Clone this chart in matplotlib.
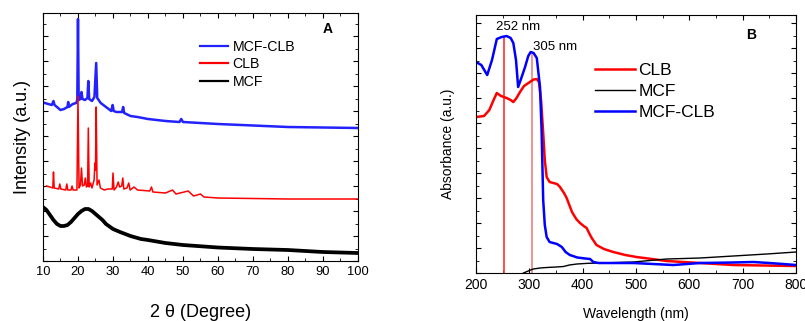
import matplotlib
matplotlib.use("Agg")
import matplotlib.pyplot as plt
from matplotlib.ticker import MultipleLocator

plt.rcParams["font.family"] = ["Liberation Sans", "DejaVu Sans"]

# ---- panel A: XRD ----
xrd_blue_x = [10.5, 11.5, 12.5, 13.0, 13.3, 14, 15, 16, 17, 17.2, 17.4, 18.5, 19.5, 19.8, 20.0, 20.2,
              20.7, 21.0, 21.3, 22, 22.7, 22.95, 23.2, 24, 24.7, 25.2, 25.5, 25.9, 26.5, 28, 29.5, 29.9,
              30.2, 31, 32.6, 32.9, 33.2, 35, 37, 40, 45, 49, 49.5, 50, 55, 60, 70, 80, 90, 100]
xrd_blue_y = [158, 157, 156, 160, 156, 154, 151, 152, 154, 159, 154, 157, 158, 161, 242, 161,
              162, 169, 162, 161, 163, 180, 162, 160, 164, 198, 163, 161, 158, 154, 150, 156,
              150, 149, 149, 154, 148, 145, 144, 142, 140, 139, 142, 139, 138, 137, 135.5, 134, 133.5, 133]

xrd_red_x = [11, 12, 12.8, 13.0, 13.2, 14.5, 14.8, 15.1, 16.5, 16.8, 17.1, 18.0, 18.3, 18.6, 19.7, 20.0,
             20.3, 20.7, 21.0, 21.3, 21.8, 22.1, 22.4, 22.75, 22.95, 23.2, 23.6, 24.0, 24.6, 24.85, 25.0,
             25.2, 25.45, 26.0, 26.4, 27.5, 28.5, 29.8, 30.0, 30.3, 31.0, 31.5, 31.9, 32.5, 32.8, 33.1,
             34.0, 34.5, 34.9, 36, 37, 40.5, 41.0, 41.4, 45, 47, 48, 51.5, 53, 55, 56, 60, 70, 80, 100]
xrd_red_y = [75, 74, 73, 89, 73, 72, 77, 72, 71, 77, 71, 71, 75, 71, 71, 165,
             73, 76, 93, 75, 76, 83, 74, 75, 133, 74, 78, 73, 81, 98, 91,
             154, 76, 81, 73, 71, 72, 72, 88, 71, 74, 79, 74, 75, 83, 72,
             73, 78, 71, 74, 71, 70, 74, 69, 68, 71, 67, 70, 65, 67, 64, 63, 62.5, 62, 62]

xrd_black_x = [10.3, 11, 12, 13, 14, 15, 16, 17, 18, 19, 20, 21, 22, 23, 24, 25, 26, 27, 28, 30,
               32, 35, 38, 40, 45, 50, 60, 70, 80, 90, 100]
xrd_black_y = [53, 51, 46, 41, 37, 35, 35, 36, 39, 43, 47, 50, 52, 52, 50, 47, 44, 41, 37, 32,
               29, 25, 22, 21, 18, 16, 13.5, 12, 11, 9, 8]

# ---- panel B: UV-vis ----
uv_blue_x = [200, 210, 221, 230, 239, 248, 257.5, 265, 270, 275, 279, 285, 292, 298, 302.5, 308, 314,
             320, 323, 326, 329, 332.5, 338, 345, 352, 361, 368, 376, 390, 405, 414, 420, 430, 495,
             570, 620, 680, 720, 750, 776, 800]
uv_blue_y = [211, 208, 198, 213, 234, 236, 237, 235, 230, 213, 186, 195, 206, 217, 221, 220, 215,
             186, 143, 73, 48, 36, 31, 30, 29, 26, 21, 18, 15.5, 14.5, 14, 11, 10, 10,
             8, 10, 10.5, 11, 10, 9, 8]

uv_red_x = [200, 215, 225, 233, 239, 247, 257.5, 265, 270, 276, 282.5, 290, 301, 308, 314, 318, 322,
            326, 329, 332.5, 338, 345, 352, 357.5, 365, 370, 380, 388, 395, 402, 407.5, 412, 417, 426,
            440, 457.5, 480, 501, 530, 557.5, 620, 682.5, 740, 800]
uv_red_y = [156, 157, 163, 173, 180, 177, 175, 173, 171, 175, 181, 187, 191, 193.5, 194, 191, 173,
            140, 113, 96, 91, 90, 89, 86, 80, 75, 61, 54, 50, 47, 45, 40, 35, 28,
            24, 21, 18, 16, 14, 12, 10, 8, 7.5, 7]

uv_black_x = [289, 300, 307.5, 320, 332.5, 350, 364, 375, 389, 410, 432.5, 495, 557.5, 620, 682.5, 745, 800]
uv_black_y = [0, 2.5, 4, 5, 5.5, 6, 6.5, 8, 9, 9.7, 10, 11, 14, 15, 17, 19, 21]

peak_nm = [252, 305]
peak_top = [235, 218]
peak_colors = ["#ff3030", "#f08080"]

fig = plt.figure(figsize=(8.05, 3.21), dpi=100)

# panel A
ax1 = fig.add_axes([0.0534, 0.1869, 0.3913, 0.7726])
l_blue, = ax1.plot(xrd_blue_x, xrd_blue_y, color="#2222ff", lw=1.8, label="MCF-CLB")
l_red, = ax1.plot(xrd_red_x, xrd_red_y, color="#ff0000", lw=1.1, label="CLB")
l_black, = ax1.plot(xrd_black_x, xrd_black_y, color="black", lw=2.7, label="MCF")
ax1.set_xlim(10, 100)
ax1.set_ylim(0, 248)
ax1.xaxis.set_major_locator(MultipleLocator(10))
ax1.xaxis.set_minor_locator(MultipleLocator(5))
ax1.yaxis.set_major_locator(MultipleLocator(25))
ax1.yaxis.set_minor_locator(MultipleLocator(12.5))
ax1.tick_params(which="both", direction="in", top=True, right=True, labelsize=9.3)
ax1.tick_params(axis="y", labelleft=False)
ax1.tick_params(which="major", length=3.5)
ax1.tick_params(which="minor", length=2)
ax1.set_xlabel("2 θ (Degree)", fontsize=13, labelpad=19)
ax1.set_ylabel("Intensity (a.u.)", fontsize=13, labelpad=5)
leg1 = ax1.legend(handles=[l_blue, l_red, l_black], loc="upper left", bbox_to_anchor=(0.48, 0.915),
                  frameon=False, fontsize=10.2, handlelength=2.0, handletextpad=0.3,
                  labelspacing=0.25, borderaxespad=0)
for h in leg1.get_lines():
    h.set_linewidth(1.6)
ax1.text(0.905, 0.935, "A", transform=ax1.transAxes, fontsize=10, fontweight="bold",
         ha="center", va="center")

# panel B
ax2 = fig.add_axes([0.5913, 0.1495, 0.3975, 0.8037])
for nm, top, c in zip(peak_nm, peak_top, peak_colors):
    ax2.plot([nm, nm], [0, top], color=c, lw=1.2)
m_red, = ax2.plot(uv_red_x, uv_red_y, color="#ff0000", lw=1.8, label="CLB")
m_black, = ax2.plot(uv_black_x, uv_black_y, color="black", lw=1.0, label="MCF")
m_blue, = ax2.plot(uv_blue_x, uv_blue_y, color="#0000ff", lw=1.8, label="MCF-CLB")
ax2.set_xlim(200, 800)
ax2.set_ylim(0, 258)
ax2.xaxis.set_major_locator(MultipleLocator(100))
ax2.xaxis.set_minor_locator(MultipleLocator(50))
ax2.yaxis.set_major_locator(MultipleLocator(25))
ax2.yaxis.set_minor_locator(MultipleLocator(12.5))
ax2.tick_params(which="both", direction="in", top=True, right=True, labelsize=10)
ax2.tick_params(axis="y", labelleft=False)
ax2.tick_params(which="major", length=3.5)
ax2.tick_params(which="minor", length=2)
ax2.set_xlabel("Wavelength (nm)", fontsize=10, labelpad=11)
ax2.set_ylabel("Absorbance (a.u.)", fontsize=10, labelpad=12)
ax2.legend(handles=[m_red, m_black, m_blue], loc="upper left", bbox_to_anchor=(0.35, 0.84),
           frameon=False, fontsize=12.5, handlelength=2.3, handletextpad=0.2,
           labelspacing=0.33, borderaxespad=0)
ax2.text(279, 246, "252 nm", fontsize=9.5, ha="center", va="center")
ax2.text(307, 226, "305 nm", fontsize=9.5, ha="left", va="center")
ax2.text(0.86, 0.922, "B", transform=ax2.transAxes, fontsize=10, fontweight="bold",
         ha="center", va="center")

fig.savefig("out.png", dpi=100)
